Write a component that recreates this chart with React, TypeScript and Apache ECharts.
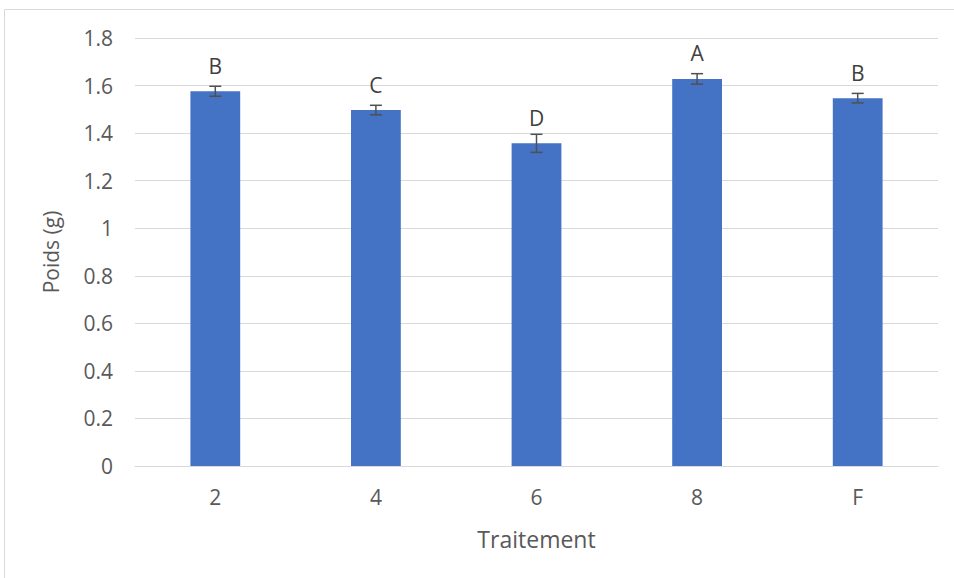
import React, { useEffect, useRef } from "react";
import * as echarts from "echarts";

const categories = ["2", "4", "6", "8", "F"];
const means = [1.576, 1.497, 1.357, 1.628, 1.547];
const errors = [0.021, 0.02, 0.038, 0.022, 0.02];
const letters = ["B", "C", "D", "A", "B"];
const yTicks = [0, 0.2, 0.4, 0.6, 0.8, 1, 1.2, 1.4, 1.6, 1.8];

const FONT = "'Open Sans', 'Noto Sans', sans-serif";

export default function App() {
  const ref = useRef<HTMLDivElement>(null);
  useEffect(() => {
    if (!ref.current) return;
    const chart = echarts.init(ref.current, null, { renderer: "svg" });
    const errData = categories.map((c, i) => [i, means[i] - errors[i], means[i] + errors[i]]);
    chart.setOption({
      animation: false,
      backgroundColor: "#ffffff",
      textStyle: { fontFamily: FONT },
      graphic: [
        {
          type: "rect",
          shape: { x: 4.5, y: 9.5, width: 1000, height: 700 },
          style: { fill: "none", stroke: "#d9d9d9", lineWidth: 1 },
          silent: true,
        },
      ],
      grid: { left: 135, right: 16, top: 38, bottom: 112 },
      xAxis: {
        type: "category",
        data: categories,
        name: "Traitement",
        nameLocation: "middle",
        nameGap: 61,
        nameTextStyle: { fontSize: 23, color: "#595959", fontFamily: FONT },
        axisLine: { lineStyle: { color: "#d9d9d9", width: 1 } },
        axisTick: { show: false },
        axisLabel: { fontSize: 21, color: "#595959", margin: 20, fontFamily: FONT },
      },
      yAxis: {
        type: "value",
        min: 0,
        max: 1.8,
        interval: 0.2,
        name: "Poids (g)",
        nameLocation: "middle",
        nameGap: 74,
        nameTextStyle: { fontSize: 21, color: "#595959", fontFamily: FONT },
        axisLine: { show: false },
        axisTick: { show: false },
        splitLine: { lineStyle: { color: "#d9d9d9", width: 1 } },
        axisLabel: {
          fontSize: 21,
          color: "#595959",
          margin: 22,
          fontFamily: FONT,
          formatter: (v: number) => {
            const t = yTicks.find((x) => Math.abs(x - v) < 1e-9);
            return String(t !== undefined ? t : v);
          },
        },
      },
      series: [
        {
          type: "bar",
          data: means,
          barWidth: "31%",
          itemStyle: { color: "#4472C4" },
          label: {
            show: true,
            position: "top",
            distance: 15,
            fontSize: 21,
            color: "#404040",
            fontFamily: FONT,
            formatter: (p: any) => letters[p.dataIndex],
          },
          z: 2,
        },
        {
          type: "custom",
          data: errData,
          z: 5,
          renderItem: (params: any, api: any) => {
            const x = api.value(0);
            const lo = api.coord([x, api.value(1)]);
            const hi = api.coord([x, api.value(2)]);
            const half = 6;
            const style = { stroke: "#505050", lineWidth: 1.5, fill: "none" };
            return {
              type: "group",
              children: [
                { type: "line", shape: { x1: hi[0], y1: hi[1], x2: lo[0], y2: lo[1] }, style },
                { type: "line", shape: { x1: hi[0] - half, y1: hi[1], x2: hi[0] + half, y2: hi[1] }, style },
                { type: "line", shape: { x1: lo[0] - half, y1: lo[1], x2: lo[0] + half, y2: lo[1] }, style },
              ],
            };
          },
        },
      ],
    });
    return () => chart.dispose();
  }, []);
  return (
    <div
      ref={ref}
      style={{ position: "fixed", left: 0, top: 0, width: 954, height: 578 }}
    />
  );
}
